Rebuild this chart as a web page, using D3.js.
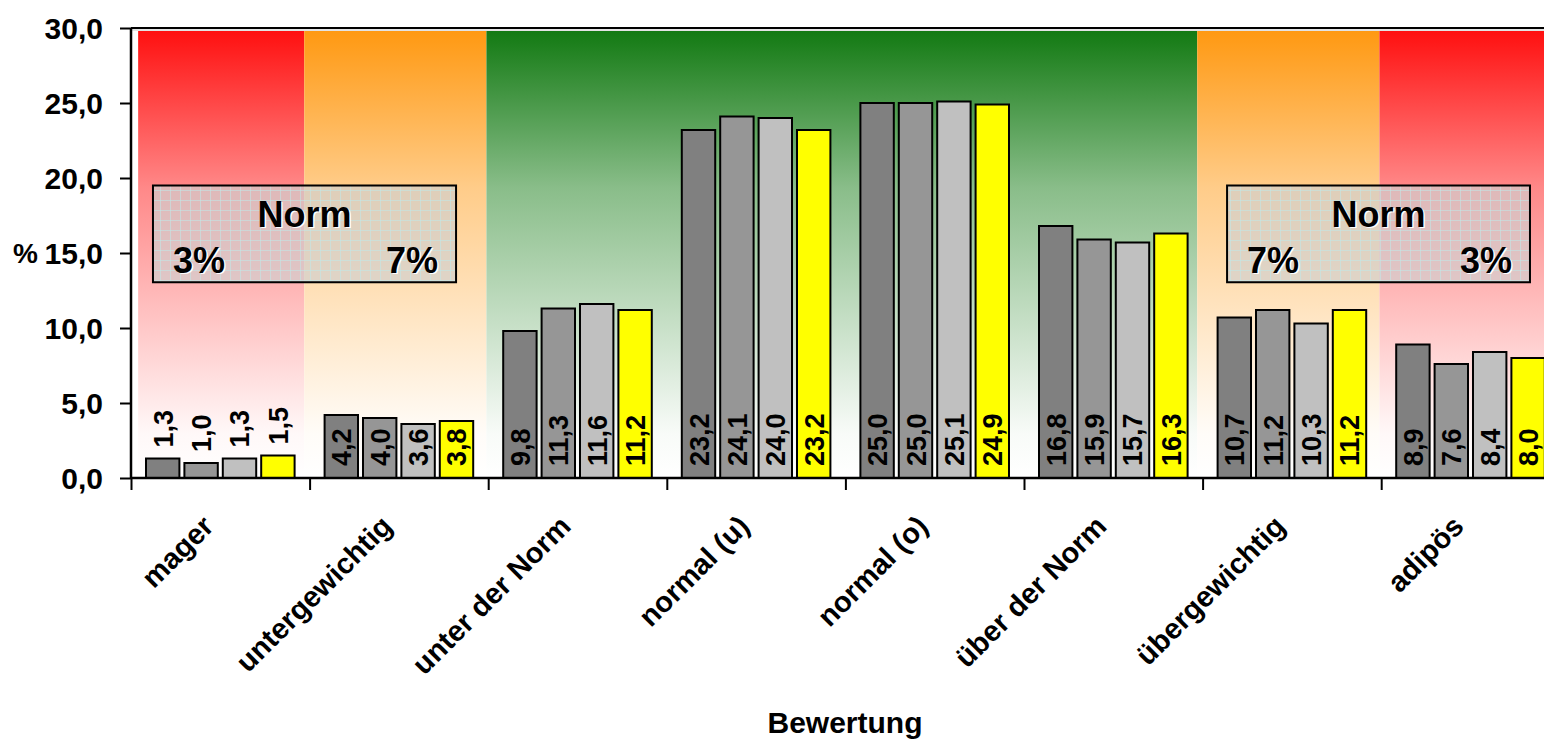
<!DOCTYPE html>
<html>
<head>
<meta charset="utf-8">
<script src="https://cdn.jsdelivr.net/npm/d3@7"></script>
<style>
  html, body { margin: 0; padding: 0; background: #fff; overflow: hidden; }
  svg { display: block; font-family: Arial, "Liberation Sans", sans-serif; font-weight: bold; }
</style>
</head>
<body>
<svg id="chart" width="1544" height="739"></svg>
<script>
// Weight categories and the four series per category (percent)
const categories = ["mager", "untergewichtig", "unter der Norm", "normal (u)",
                    "normal (o)", "über der Norm", "übergewichtig", "adipös"];
const series1 = [1.3, 4.2, 9.8, 23.2, 25.0, 16.8, 10.7, 8.9];
const series2 = [1.0, 4.0, 11.3, 24.1, 25.0, 15.9, 11.2, 7.6];
const series3 = [1.3, 3.6, 11.6, 24.0, 25.1, 15.7, 10.3, 8.4];
const series4 = [1.5, 3.8, 11.2, 23.2, 24.9, 16.3, 11.2, 8.0];
const seriesColors = ["#808080", "#969696", "#c0c0c0", "#ffff00"];
const yTicks = [0, 5, 10, 15, 20, 25, 30];
const axisTitleX = "Bewertung";
const axisTitleY = "%";

// Background zones (category index ranges) and their top colours
const zoneEdges = [0.04, 0.97, 1.99, 5.97, 6.99, 8];
const zoneColors = ["#ff1010", "#ff9912", "#137a13", "#ff9912", "#ff1010"];

// Norm info boxes
const normTitle = "Norm";
const normLeft = ["3%", "7%"];
const normRight = ["7%", "3%"];

const fmt = v => v.toFixed(1).replace(".", ",");
const svg = d3.select("#chart");

const plotLeft = 131, groupW = 178.6;
const y = d3.scaleLinear().domain([0, 30]).range([478, 28]);
const xi = d3.scaleLinear().domain([0, categories.length]).range([plotLeft, plotLeft + groupW * categories.length]);
const x0 = d3.scaleBand().domain(categories).range(xi.range()).paddingInner(0).paddingOuter(0);
const x1 = d3.scaleBand().domain([0, 1, 2, 3]).range([15, groupW - 15]).paddingInner(0.13).paddingOuter(0);

const defs = svg.append("defs");
zoneColors.forEach((c, i) => {
  const g = defs.append("linearGradient").attr("id", "zone" + i)
    .attr("x1", 0).attr("y1", 0).attr("x2", 0).attr("y2", 1);
  const mix = t => d3.interpolateRgb(c, "#ffffff")(t);
  g.append("stop").attr("offset", "0%").attr("stop-color", c);
  g.append("stop").attr("offset", "35%").attr("stop-color", mix(0.5));
  g.append("stop").attr("offset", "90%").attr("stop-color", mix(0.97));
  g.append("stop").attr("offset", "100%").attr("stop-color", "#ffffff");
});
const pat = defs.append("pattern").attr("id", "grid").attr("patternUnits", "userSpaceOnUse")
  .attr("width", 10).attr("height", 10);
pat.append("rect").attr("width", 10).attr("height", 10).attr("fill", "#d0d0d0").attr("fill-opacity", 0.68);
pat.append("path").attr("d", "M0,0.5H10M0.5,0V10").attr("stroke", "#bfe6e6")
  .attr("stroke-opacity", 0.55).attr("stroke-width", 1);

// zones
svg.append("g").selectAll("rect").data(zoneColors).join("rect")
  .attr("x", (d, i) => xi(zoneEdges[i]))
  .attr("width", (d, i) => xi(zoneEdges[i + 1]) - xi(zoneEdges[i]))
  .attr("y", y(30) + 3).attr("height", y(0) - y(30) - 3)
  .attr("fill", (d, i) => `url(#zone${i})`);

// top border of the plot area
svg.append("line").attr("x1", plotLeft).attr("x2", 1544).attr("y1", y(30)).attr("y2", y(30))
  .attr("stroke", "#000").attr("stroke-width", 2);
svg.append("line").attr("x1", plotLeft).attr("x2", 1544).attr("y1", y(30) + 2).attr("y2", y(30) + 2)
  .attr("stroke", "#c8c8c8").attr("stroke-width", 1.2);

// norm boxes
function normBox(a, b, labels) {
  const g = svg.append("g");
  const left = xi(a), right = xi(b), top = y(19.5), bottom = y(13.05);
  g.append("rect").attr("x", left).attr("y", top).attr("width", right - left).attr("height", bottom - top)
    .attr("fill", "url(#grid)").attr("stroke", "#000").attr("stroke-width", 2);
  const items = [
    { t: normTitle, x: (left + right) / 2, y: top + 41, a: "middle" },
    { t: labels[0], x: left + 20, y: top + 87, a: "start" },
    { t: labels[1], x: right - 18, y: top + 87, a: "end" }
  ];
  items.forEach(it => {
    g.append("text").attr("x", it.x + 1.5).attr("y", it.y + 1.5).attr("text-anchor", it.a)
      .attr("font-size", 36).attr("fill", "#fff").text(it.t);
    g.append("text").attr("x", it.x).attr("y", it.y).attr("text-anchor", it.a)
      .attr("font-size", 36).attr("fill", "#000").text(it.t);
  });
}
normBox(0.123, 1.82, normLeft);
normBox(6.137, 7.833, normRight);

// bars
const allSeries = [series1, series2, series3, series4];
const rows = categories.map((c, i) => ({ c, vals: allSeries.map(s => s[i]) }));
const groups = svg.append("g").selectAll("g").data(rows).join("g")
  .attr("transform", d => `translate(${x0(d.c)},0)`);
groups.selectAll("rect").data(d => d.vals.map((v, k) => ({ v, k }))).join("rect")
  .attr("x", d => x1(d.k)).attr("width", x1.bandwidth())
  .attr("y", d => y(d.v)).attr("height", d => y(0) - y(d.v))
  .attr("fill", d => seriesColors[d.k]).attr("stroke", "#000").attr("stroke-width", 2);
groups.selectAll("text").data(d => d.vals.map((v, k) => ({ v, k }))).join("text")
  .attr("transform", d => {
    const cx = x1(d.k) + x1.bandwidth() / 2;
    const py = d.v < 3 ? y(d.v) - 11 : y(0) - 12;
    return `translate(${cx},${py}) rotate(-90)`;
  })
  .attr("dy", "0.37em").attr("text-anchor", "start").attr("font-size", 27).attr("fill", "#000")
  .text(d => fmt(d.v));

// y axis
const yAxis = svg.append("g").attr("transform", `translate(${plotLeft},0)`)
  .call(d3.axisLeft(y).tickValues(yTicks).tickSize(11).tickPadding(17).tickFormat(fmt));
yAxis.select(".domain").attr("stroke", "#000").attr("stroke-width", 2.5).attr("d", `M0,${y(0)}V${y(30)}`);
yAxis.selectAll(".tick line").attr("stroke", "#000").attr("stroke-width", 2);
yAxis.selectAll(".tick text").attr("font-size", 30).attr("font-family", null).attr("fill", "#000").attr("dy", "0.36em");

// x axis
const xAxis = svg.append("g").attr("transform", `translate(0,${y(0)})`)
  .call(d3.axisBottom(xi).tickValues(d3.range(0, categories.length + 1)).tickSize(12).tickFormat(""));
xAxis.select(".domain").attr("stroke", "#000").attr("stroke-width", 2.5).attr("d", `M${plotLeft},0H1544`);
xAxis.selectAll(".tick line").attr("stroke", "#000").attr("stroke-width", 2);

// category labels
svg.append("g").selectAll("text").data(categories).join("text")
  .attr("transform", d => `translate(${x0(d) + groupW / 2 - 5},${y(0) + 50}) rotate(-45)`)
  .attr("text-anchor", "end").attr("font-size", 29).attr("fill", "#000").text(d => d);

// axis titles
svg.append("text").attr("x", 845).attr("y", 733).attr("text-anchor", "middle")
  .attr("font-size", 30).attr("fill", "#000").text(axisTitleX);
svg.append("text").attr("x", 13).attr("y", y(15) + 10).attr("text-anchor", "start")
  .attr("font-size", 28).attr("fill", "#000").text(axisTitleY);
</script>
</body>
</html>
